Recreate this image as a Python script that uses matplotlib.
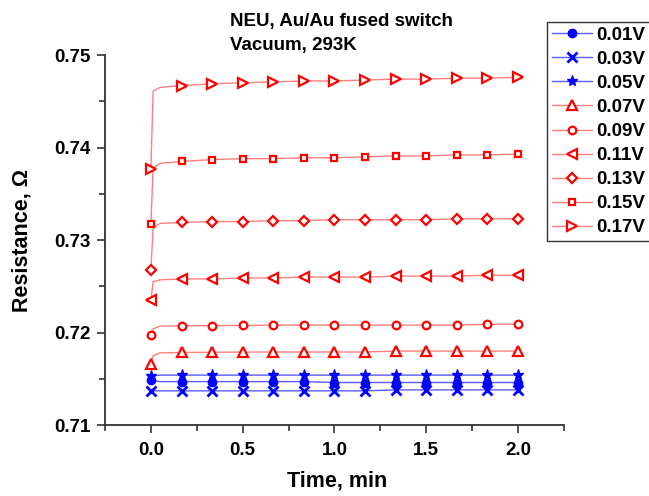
import matplotlib
matplotlib.use("Agg")
import matplotlib.pyplot as plt
from matplotlib.ticker import MultipleLocator, FormatStrFormatter

plt.rcParams['font.family'] = ['Liberation Sans', 'DejaVu Sans']
plt.rcParams['font.weight'] = 'bold'

# marker times (min)
t_mark = [0.0, 1/6, 2/6, 3/6, 4/6, 5/6, 1.0, 7/6, 8/6, 9/6, 10/6, 11/6, 2.0]
# extra early times for the fast initial rise of the traces
t_rise = [0.012, 0.05]

labels = ['0.01V', '0.03V', '0.05V', '0.07V', '0.09V', '0.11V', '0.13V', '0.15V', '0.17V']

r001 = [0.7149, 0.7147, 0.7147, 0.7147, 0.7147, 0.7147, 0.7146, 0.7146, 0.7146, 0.7146, 0.7146, 0.7146, 0.7146]
r003 = [0.7137, 0.7137, 0.7137, 0.7137, 0.7137, 0.7137, 0.7137, 0.7137, 0.7138, 0.7138, 0.7138, 0.7138, 0.7138]
r005 = [0.7153, 0.7154, 0.7154, 0.7154, 0.7154, 0.7154, 0.7154, 0.7154, 0.7154, 0.7154, 0.7154, 0.7154, 0.7154]
r007 = [0.7166, 0.71785, 0.71787, 0.71789, 0.7179, 0.7179, 0.7179, 0.7179, 0.7180, 0.7180, 0.7180, 0.7180, 0.7180]
r009 = [0.7197, 0.72073, 0.72075, 0.72077, 0.7208, 0.7208, 0.7208, 0.7208, 0.7208, 0.7208, 0.7208, 0.7209, 0.7209]
r011 = [0.7235, 0.7258, 0.7258, 0.7259, 0.7259, 0.7260, 0.7260, 0.7260, 0.7261, 0.7261, 0.7261, 0.7262, 0.7262]
r013 = [0.7268, 0.7319, 0.7320, 0.7320, 0.7321, 0.7321, 0.7322, 0.7322, 0.7322, 0.7322, 0.7323, 0.7323, 0.7323]
r015 = [0.7317, 0.7385, 0.7387, 0.7388, 0.7388, 0.7389, 0.7389, 0.7390, 0.7391, 0.7391, 0.7392, 0.7392, 0.7393]
r017 = [0.7377, 0.7467, 0.7469, 0.7470, 0.7471, 0.7472, 0.7472, 0.7473, 0.7474, 0.7474, 0.7475, 0.7475, 0.7476]

# trace values at the early rise times (t_rise)
rise001 = [0.7148, 0.7147]
rise003 = [0.7137, 0.7137]
rise005 = [0.7153, 0.7154]
rise007 = [0.7175, 0.7178]
rise009 = [0.7204, 0.7207]
rise011 = [0.7255, 0.7257]
rise013 = [0.7313, 0.7318]
rise015 = [0.7378, 0.7383]
rise017 = [0.7461, 0.7465]

series = [r001, r003, r005, r007, r009, r011, r013, r015, r017]
rises = [rise001, rise003, rise005, rise007, rise009, rise011, rise013, rise015, rise017]
markers = ['o', 'x', '*', '^', 'o', '<', 'D', 's', '>']
is_blue = [True, True, True, False, False, False, False, False, False]

fig = plt.figure(figsize=(6.49, 4.96), dpi=100)
ax = fig.add_axes([0.1618, 0.143, 0.7072, 0.746])

for vals, rv, lab, m, blue in zip(series, rises, labels, markers, is_blue):
    tt = [t_mark[0]] + t_rise + t_mark[1:]
    vv = [vals[0]] + rv + vals[1:]
    mev = [0] + list(range(1 + len(t_rise), len(tt)))
    if blue:
        lc, mc = '#5a5aff', '#0000ff'
        mfc = mc
        ms = {'o': 6, 'x': 7, '*': 8}[m]
        mew = 2.0 if m == 'x' else 1.0
    else:
        lc, mc = '#ff7f7f', '#ff0000'
        mfc = 'white'
        ms = {'^': 6.5, 'o': 5.5, '<': 6.5, 'D': 5, 's': 5, '>': 6.5}[m]
        mew = 1.6
    ax.plot(tt, vv, color=lc, lw=1.0, marker=m, markevery=mev,
            markersize=ms, markeredgecolor=mc, markerfacecolor=mfc,
            markeredgewidth=mew, label=lab)

ax.set_xlim(-0.25, 2.25)
ax.set_ylim(0.71, 0.75)
ax.xaxis.set_major_locator(MultipleLocator(0.5))
ax.xaxis.set_minor_locator(MultipleLocator(0.25))
ax.yaxis.set_major_locator(MultipleLocator(0.01))
ax.yaxis.set_minor_locator(MultipleLocator(0.005))
ax.xaxis.set_major_formatter(FormatStrFormatter('%.1f'))
ax.yaxis.set_major_formatter(FormatStrFormatter('%.2f'))
for s in ['top', 'right']:
    ax.spines[s].set_visible(False)
for s in ['left', 'bottom']:
    ax.spines[s].set_linewidth(1.3)
    ax.spines[s].set_color('#333333')
ax.tick_params(which='major', direction='out', length=6, width=1.2, labelsize=13.5, colors='#333333', labelcolor='black')
ax.tick_params(which='minor', direction='out', length=4, width=1.2, colors='#333333')
ax.tick_params(axis='x', pad=6)
ax.tick_params(axis='y', pad=4)
for lbl in ax.get_xticklabels() + ax.get_yticklabels():
    lbl.set_fontweight('bold')

ax.set_xlabel('Time, min', fontsize=15.5, fontweight='bold')
ax.set_ylabel('Resistance, \u03a9', fontsize=15.5, fontweight='bold')
ax.xaxis.set_label_coords(0.506, -0.151)
ax.xaxis.label.set_va('center')
ax.yaxis.set_label_coords(-0.181, 0.5)
ax.yaxis.label.set_va('center')

fig.text(0.355, 1 - 26 / 496, 'NEU, Au/Au fused switch', fontsize=13.5, fontweight='bold', va='baseline', ha='left')
fig.text(0.355, 1 - 50 / 496, 'Vacuum, 293K', fontsize=13.5, fontweight='bold', va='baseline', ha='left')

leg = fig.legend(loc='upper left', bbox_to_anchor=(547 / 649, 1 - 22 / 496), numpoints=1,
                 handlelength=2.13, handletextpad=0.27, labelspacing=0.37,
                 borderpad=0.25, borderaxespad=0, prop={'weight': 'bold', 'size': 13.5},
                 fancybox=False, edgecolor='#333333', framealpha=1)
leg.get_frame().set_linewidth(1.0)

fig.savefig('out.png', dpi=100)
